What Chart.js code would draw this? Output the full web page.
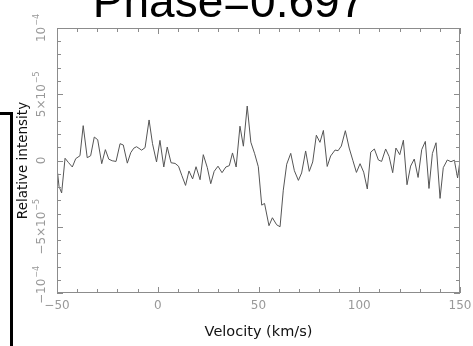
<!DOCTYPE html>
<html>
<head>
<meta charset="utf-8">
<script src="https://cdn.jsdelivr.net/npm/chart.js@4"></script>
<style>
  html, body { margin: 0; padding: 0; background: #fff; }
  #wrap { position: relative; width: 473px; height: 346px; overflow: hidden; }
</style>
</head>
<body>
<div id="wrap"><canvas id="spectrum" width="473" height="346"></canvas></div>
<script>
// velocity (km/s) and relative intensity (in units of 1e-5)
const velocity = [
  -49.7, -49.0, -47.7, -46.0, -44.4, -42.4, -40.7, -38.6, -37.0, -35.0,
  -33.3, -31.5, -29.8, -27.8, -26.0, -24.3, -22.6, -20.7, -18.7, -17.1,
  -15.1, -13.4, -11.9, -10.5, -8.0, -6.3, -4.3, -2.6, -0.6, 1.1,
  3.0, 4.7, 6.6, 8.6, 10.3, 12.0, 13.8, 15.5, 17.3, 19.0,
  21.0, 22.6, 24.6, 26.3, 28.0, 29.9, 31.9, 33.8, 35.5, 37.1,
  38.9, 40.8, 42.5, 44.4, 46.2, 48.1, 49.9, 51.6, 53.0, 55.2,
  56.9, 59.0, 60.7, 62.3, 64.0, 66.0, 67.8, 69.8, 71.4, 73.4,
  75.2, 76.9, 78.7, 80.5, 82.2, 84.1, 85.8, 88.0, 89.5, 91.1,
  93.1, 95.0, 96.8, 98.6, 100.4, 102.2, 104.0, 105.7, 107.5, 109.5,
  111.1, 113.1, 114.8, 116.6, 118.2, 120.1, 121.9, 123.7, 125.5, 127.3,
  129.2, 131.0, 132.8, 134.6, 136.3, 138.1, 140.1, 141.7, 143.7, 145.5,
  147.2, 148.8, 150.0
];
const intensity = [
  -0.94, -1.95, -2.45, 0.17, -0.14, -0.49, 0.14, 0.36, 2.63, 0.21,
  0.36, 1.77, 1.57, -0.24, 0.82, 0.10, -0.02, -0.07, 1.27, 1.17,
  -0.20, 0.59, 0.93, 1.04, 0.78, 0.97, 3.06, 1.27, -0.11, 1.52,
  -0.49, 1.02, -0.17, -0.22, -0.43, -1.15, -1.88, -0.79, -1.39, -0.47,
  -1.45, 0.44, -0.54, -1.75, -0.82, -0.43, -0.92, -0.49, -0.39, 0.57,
  -0.49, 2.59, 1.08, 4.11, 1.38, 0.51, -0.47, -3.37, -3.24, -4.92,
  -4.32, -4.85, -5.00, -2.24, -0.28, 0.54, -0.77, -1.50, -0.94, 0.72,
  -0.82, -0.11, 1.91, 1.37, 2.27, -0.45, 0.34, 0.79, 0.74, 1.09,
  2.25, 0.94, 0.02, -0.90, -0.24, -0.88, -2.15, 0.63, 0.87, 0.04,
  -0.07, 0.87, 0.31, -0.92, 0.94, 0.44, 1.53, -1.83, -0.42, 0.11,
  -1.28, 0.82, 1.44, -2.11, 0.53, 1.34, -2.86, -0.54, 0.04, -0.09,
  0.02, -1.32, -0.02
];
const intensityUnit = 1e-5;

const xTicks = [-50, 0, 50, 100, 150];
const xTickLabels = ['\u221250', '0', '50', '100', '150'];
const yTicks = [-1e-4, -5e-5, 0, 5e-5, 1e-4];
// [prefix, base, exponent]
const yTickLabels = [
  ['\u2212', '10', '\u22124'],
  ['\u22125\u00d7', '10', '\u22125'],
  ['0', '', ''],
  ['5\u00d7', '10', '\u22125'],
  ['', '10', '\u22124']
];

const points = velocity.map((v, i) => ({ x: v, y: intensity[i] * intensityUnit }));

// frame, inward ticks, labels - drawn from the chart scales
const framePlugin = {
  id: 'pgframe',
  afterDraw(chart) {
    const ctx = chart.ctx;
    const a = chart.chartArea;
    const xs = chart.scales.x, ys = chart.scales.y;
    ctx.save();

    // box
    ctx.strokeStyle = '#8c8c8c';
    ctx.lineWidth = 1;
    ctx.strokeRect(Math.round(a.left) + 0.5, Math.round(a.top) + 0.5,
                   Math.round(a.right - a.left) - 1, Math.round(a.bottom - a.top) - 1);

    // x ticks, every 10, major every 50
    ctx.beginPath();
    for (let v = -50; v <= 150; v += 10) {
      const px = Math.round(xs.getPixelForValue(v)) + 0.5;
      const len = (v % 50 === 0) ? 6 : 4;
      ctx.moveTo(px, a.bottom); ctx.lineTo(px, a.bottom - len);
      ctx.moveTo(px, a.top); ctx.lineTo(px, a.top + len);
    }
    // y ticks, every 1e-5, major every 5e-5
    for (let k = -10; k <= 10; k++) {
      const py = Math.round(ys.getPixelForValue(k * 1e-5)) + 0.5;
      const len = (k % 5 === 0) ? 6 : 4;
      ctx.moveTo(a.left, py); ctx.lineTo(a.left + len, py);
      ctx.moveTo(a.right, py); ctx.lineTo(a.right - len, py);
    }
    ctx.stroke();

    // x tick labels
    ctx.fillStyle = '#999';
    ctx.font = '12px "DejaVu Sans"';
    ctx.textAlign = 'center';
    ctx.textBaseline = 'alphabetic';
    xTicks.forEach((v, i) => {
      ctx.fillText(xTickLabels[i], xs.getPixelForValue(v), a.bottom + 16);
    });

    // y tick labels, rotated
    yTicks.forEach((v, i) => {
      const [pre, base, exp] = yTickLabels[i];
      ctx.save();
      ctx.translate(a.left - 12, ys.getPixelForValue(v));
      ctx.rotate(-Math.PI / 2);
      ctx.textAlign = 'left';
      ctx.font = '12px "DejaVu Sans"';
      const w1 = ctx.measureText(pre + base).width;
      ctx.font = '8px "DejaVu Sans"';
      const w2 = exp ? ctx.measureText(exp).width + 1 : 0;
      let start = -(w1 + w2) / 2;
      if (i === 0) start += 8; // bottom label nudged up inside the frame
      ctx.font = '12px "DejaVu Sans"';
      ctx.fillText(pre + base, start, 0);
      if (exp) {
        ctx.font = '8px "DejaVu Sans"';
        ctx.fillText(exp, start + w1 + 1, -6);
      }
      ctx.restore();
    });

    // axis titles
    ctx.fillStyle = '#111';
    ctx.font = '14.5px "DejaVu Sans"';
    ctx.textAlign = 'center';
    ctx.fillText('Velocity (km/s)', (a.left + a.right) / 2, 336);
    ctx.save();
    ctx.translate(27, (a.top + a.bottom) / 2);
    ctx.rotate(-Math.PI / 2);
    ctx.font = '13.5px "DejaVu Sans"';
    ctx.fillText('Relative intensity', 0, 0);
    ctx.restore();

    // big title, clipped at the top edge
    ctx.fillStyle = '#000';
    ctx.font = '46px "Liberation Sans"';
    ctx.fillText('Phase=0.697', 229, 17);

    // stray bracket line on the left edge
    ctx.strokeStyle = '#000';
    ctx.lineWidth = 3;
    ctx.beginPath();
    ctx.moveTo(0, 113.5);
    ctx.lineTo(11.5, 113.5);
    ctx.lineTo(11.5, 346);
    ctx.stroke();

    ctx.restore();
  }
};

new Chart(document.getElementById('spectrum'), {
  type: 'line',
  data: {
    datasets: [{
      data: points,
      borderColor: '#555',
      borderWidth: 1,
      pointRadius: 0,
      tension: 0,
      fill: false
    }]
  },
  options: {
    responsive: false,
    animation: false,
    devicePixelRatio: 1,
    layout: { padding: { left: 57, right: 13, top: 28, bottom: 53 } },
    plugins: {
      legend: { display: false },
      title: { display: false },
      tooltip: { enabled: false }
    },
    scales: {
      x: { type: 'linear', min: -50, max: 150, display: false },
      y: { type: 'linear', min: -1e-4, max: 1e-4, display: false }
    }
  },
  plugins: [framePlugin]
});
</script>
</body>
</html>
